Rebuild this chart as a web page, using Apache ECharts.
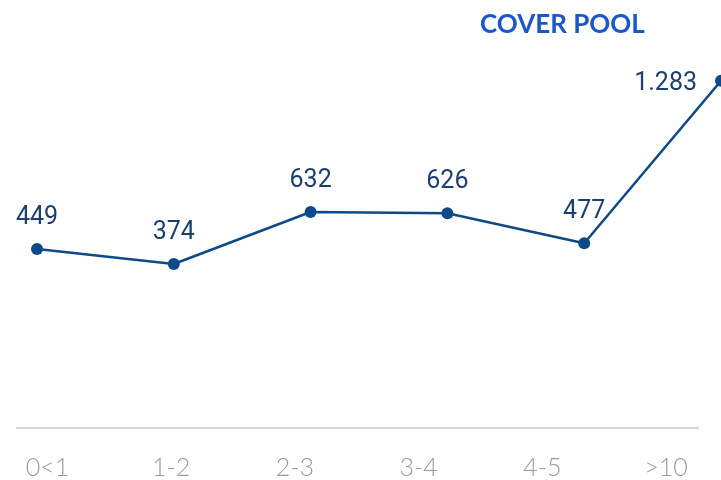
<!DOCTYPE html>
<html>
<head>
<meta charset="utf-8">
<script src="https://cdn.jsdelivr.net/npm/echarts@6/dist/echarts.min.js"></script>
<style>html,body{margin:0;padding:0;background:#fff}#c{width:721px;height:480px}</style>
</head>
<body>
<div id="c"></div>
<script>
const categories = ['0<1', '1-2', '2-3', '3-4', '4-5', '>10'];
const values = [449, 374, 632, 626, 477, 1283];
const valueLabels = ['449', '374', '632', '626', '477', '1.283'];
const titleText = 'COVER POOL';

const chart = echarts.init(document.getElementById('c'));
const data = values.map((v, i) => {
  const d = { value: v };
  if (i === values.length - 1) {
    d.label = { position: 'left', distance: 18, offset: [0, 3] };
    d.labelLine = { show: false };
  }
  return d;
});
chart.setOption({
  animation: false,
  title: {
    text: titleText, left: 475, top: 7,
    textStyle: { fontFamily: 'Lato', fontWeight: 'bold', fontSize: 26, color: '#1a57c9' }
  },
  grid: [
    { left: 47.5, right: 55, top: 60, bottom: 52, containLabel: false },
    { left: 37, right: -3, top: 57.2, bottom: 140.6, containLabel: false }
  ],
  xAxis: [
    {
      gridIndex: 0, type: 'category', data: categories, boundaryGap: false,
      axisLine: { show: false }, axisTick: { show: false },
      axisLabel: { fontFamily: 'Lato', fontWeight: 300, fontSize: 25, color: '#9a9a9a', margin: 28 }
    },
    {
      gridIndex: 1, type: 'category', data: categories, boundaryGap: false, show: false
    }
  ],
  yAxis: [
    { gridIndex: 0, type: 'value', show: false, min: 0, max: 1 },
    { gridIndex: 1, type: 'value', show: false, min: 0, max: 1400 }
  ],
  series: [
    {
      type: 'line', xAxisIndex: 1, yAxisIndex: 1, data: data,
      symbol: 'circle', symbolSize: 12,
      lineStyle: { color: '#0d4a87', width: 2.5 },
      itemStyle: { color: '#0d4a87' },
      label: {
        show: true, position: 'top', distance: 13,
        fontFamily: 'Roboto', fontSize: 25, color: '#1b3f6f',
        formatter: p => valueLabels[p.dataIndex]
      },
      labelLine: { show: true, lineStyle: { color: '#e2e2e2', width: 1 } },
      z: 5
    },
    {
      type: 'line', xAxisIndex: 0, yAxisIndex: 0, data: [],
      markLine: {
        silent: true, symbol: 'none', label: { show: false },
        lineStyle: { color: '#d4d4d4', width: 2, type: 'solid' },
        data: [[{ x: 16, y: 428 }, { x: 699, y: 428 }]]
      }
    }
  ]
});
</script>
</body>
</html>
